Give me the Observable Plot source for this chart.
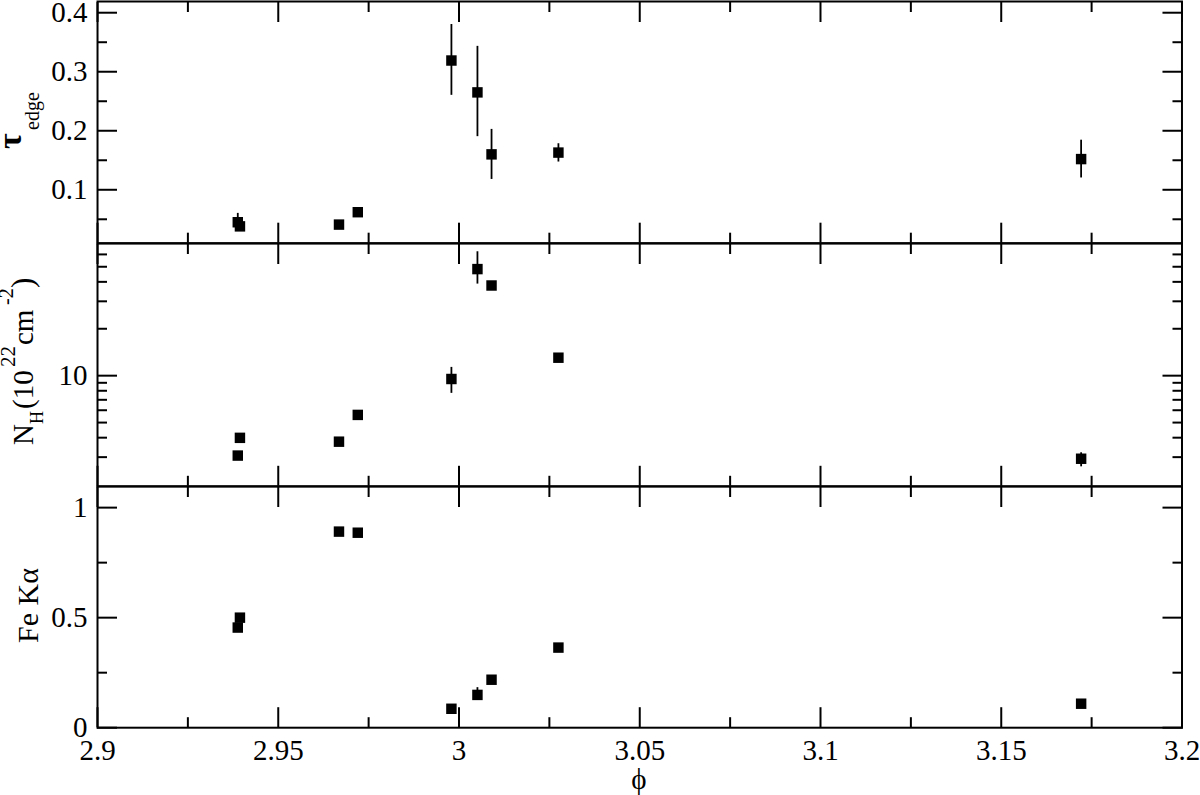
<!DOCTYPE html>
<html><head><meta charset="utf-8">
<script src="https://cdn.jsdelivr.net/npm/d3@7"></script>
<script src="https://cdn.jsdelivr.net/npm/@observablehq/plot@0.6"></script>
<style>
body{margin:0;background:#fff;}
#wrap{position:relative;width:1200px;height:795px;overflow:hidden;background:#fff;font-family:"Liberation Serif","Times New Roman",serif;}
#wrap svg{position:absolute;left:0;font-family:"Liberation Serif","Times New Roman",serif !important;}
#wrap svg text{font-family:"Liberation Serif","Times New Roman",serif !important;}
</style></head><body><div id="wrap"></div>
<script>
// ---- data ----
const phi    = [2.9388, 2.9394, 2.9668, 2.9720, 2.9979, 3.0051, 3.0090, 3.0275, 3.1721];
const tau    = [0.045, 0.038, 0.041, 0.062, 0.319, 0.265, 0.160, 0.163, 0.152];
const tauLo  = [0.031, null, null, 0.057, 0.260, 0.190, 0.1175, 0.147, 0.120];
const tauHi  = [0.060, null, null, 0.067, 0.380, 0.343, 0.2023, 0.178, 0.184];
const nh     = [3.07, 3.99, 3.77, 5.6, 9.52, 48.3, 37.9, 13.04, 2.93];
const nhLo   = [null, null, null, null, 7.7, 38.7, null, null, 2.6];
const nhHi   = [null, null, null, null, 11.3, 62.4, null, null, 3.2];
const fe     = [0.455, 0.50, 0.891, 0.886, 0.086, 0.149, 0.218, 0.364, 0.109];
const feLo   = [null, null, null, null, null, 0.149, null, null, null];
const feHi   = [null, null, null, null, null, 0.182, null, null, null];

const xMajor = [2.9, 2.95, 3.0, 3.05, 3.1, 3.15, 3.2];
const xMinor = [2.925, 2.975, 3.025, 3.075, 3.125, 3.175];
const xLabels = ["2.9", "2.95", "3", "3.05", "3.1", "3.15", "3.2"];

const tauMajor = [0.1, 0.2, 0.3, 0.4];
const tauMinor = [0.05, 0.15, 0.25, 0.35];
const tauLabels = ["0.1", "0.2", "0.3", "0.4"];

const nhMajor = [10];
const nhMinor = [3, 4, 5, 6, 7, 8, 9, 20, 30, 40, 50, 60];
const nhLabels = ["10"];

const feMajor = [0, 0.5, 1];
const feMinor = [0.25, 0.75];
const feLabels = ["0", "0.5", "1"];

// ---- build ----
const wrap = document.getElementById("wrap");
const rows = phi.map((p, i) => ({phi: p, tau: tau[i], tauLo: tauLo[i], tauHi: tauHi[i],
  nh: nh[i], nhLo: nhLo[i], nhHi: nhHi[i], fe: fe[i], feLo: feLo[i], feHi: feHi[i]}));

const FONT = "Liberation Serif";
const labelMap = (vals, labs) => new Map(vals.map((v, i) => [v, labs[i]]));
const xMap = labelMap(xMajor, xLabels);

function panel({key, y, yMajor, yMinor, yLabels, top, height, marginTop, marginBottom, xText}) {
  const yMap = labelMap(yMajor, yLabels);
  const tk = {fill: "none", label: null, strokeWidth: 2};
  const marks = [
    Plot.axisX(xMajor, {anchor: "top", tickSize: -20, ...tk}),
    Plot.axisX(xMinor, {anchor: "top", tickSize: -10, ...tk}),
    Plot.axisX(xMajor, {anchor: "bottom", tickSize: -20, ...tk}),
    Plot.axisX(xMinor, {anchor: "bottom", tickSize: -10, ...tk}),
    Plot.axisY(yMajor, {anchor: "left", tickSize: -20, ...tk}),
    Plot.axisY(yMinor, {anchor: "left", tickSize: -10, ...tk}),
    Plot.axisY(yMajor, {anchor: "right", tickSize: -20, ...tk}),
    Plot.axisY(yMinor, {anchor: "right", tickSize: -10, ...tk}),
    Plot.axisY(yMajor, {anchor: "left", tickSize: 0, tickPadding: 10, fontSize: 29, fontFamily: FONT,
      tickFormat: d => yMap.get(d), label: null})
  ];
  if (xText) marks.push(Plot.axisX(xMajor, {anchor: "bottom", tickSize: 0, tickPadding: 12,
      fontSize: 29, fontFamily: FONT, tickFormat: d => xMap.get(d), label: null}));
  marks.push(Plot.frame({strokeWidth: 2}));
  const err = rows.filter(r => r[key + "Lo"] != null);
  marks.push(Plot.ruleX(err, {x: "phi", y1: key + "Lo", y2: key + "Hi", strokeWidth: 1.8, stroke: "black"}));
  marks.push(Plot.dot(rows, {x: "phi", y: key, symbol: "square", r: 5.9, fill: "black", stroke: "none"}));
  const svg = Plot.plot({
    width: 1200, height, marginLeft: 97, marginRight: 18.5, marginTop, marginBottom,
    x: {domain: [2.9, 3.2]},
    y,
    style: "font-family: 'Liberation Serif', serif; font-size: 28px; background: transparent; overflow: visible; color: black;",
    marks
  });
  svg.style.top = top + "px";
  wrap.append(svg);
}

panel({key: "tau", y: {domain: [0.0095, 0.419]}, yMajor: tauMajor, yMinor: tauMinor, yLabels: tauLabels,
  top: 0, height: 252.7, marginTop: 1, marginBottom: 10});
panel({key: "nh", y: {type: "log", domain: [1.95, 70.5]}, yMajor: nhMajor, yMinor: nhMinor, yLabels: nhLabels,
  top: 232.7, height: 262.8, marginTop: 10, marginBottom: 10});
panel({key: "fe", y: {domain: [0, 1.096]}, yMajor: feMajor, yMinor: feMinor, yLabels: feLabels,
  top: 475.5, height: 319.5, marginTop: 10, marginBottom: 68.3, xText: true});

// ---- axis titles (rich text with sub/superscripts) ----
const ov = d3.create("svg").attr("width", 1200).attr("height", 795)
  .style("top", "0px").style("pointer-events", "none")
  .attr("font-family", FONT).attr("fill", "black");

// tau_edge
const t1 = ov.append("text").attr("transform", "translate(21,149) rotate(-90)").attr("text-anchor", "start");
t1.append("tspan").attr("x", 0).attr("y", 0).attr("font-size", 34).attr("font-weight", "bold").text("τ");
t1.append("tspan").attr("x", 19).attr("y", 18).attr("font-size", 20).text("edge");

// N_H(10^22 cm^-2)
const t2 = ov.append("text").attr("transform", "translate(33,445) rotate(-90)").attr("text-anchor", "start");
t2.append("tspan").attr("x", 0).attr("y", 0).attr("font-size", 29).text("N");
t2.append("tspan").attr("x", 21).attr("y", 10).attr("font-size", 18).text("H");
t2.append("tspan").attr("x", 36).attr("y", 0).attr("font-size", 29).text("(10");
t2.append("tspan").attr("x", 78).attr("y", -18).attr("font-size", 21).text("22");
t2.append("tspan").attr("x", 100).attr("y", 0).attr("font-size", 29).text("cm");
t2.append("tspan").attr("x", 140).attr("y", -20).attr("font-size", 20).text("-2");
t2.append("tspan").attr("x", 157).attr("y", 0).attr("font-size", 31).text(")");

// Fe Kα
ov.append("text").attr("transform", "translate(38,605.5) rotate(-90)").attr("text-anchor", "middle")
  .attr("font-size", 30).text("Fe Kα");

// phi
ov.append("text").attr("x", 639).attr("y", 789).attr("text-anchor", "middle")
  .attr("font-size", 29).text("ϕ");

wrap.append(ov.node());
</script>
</body></html>
